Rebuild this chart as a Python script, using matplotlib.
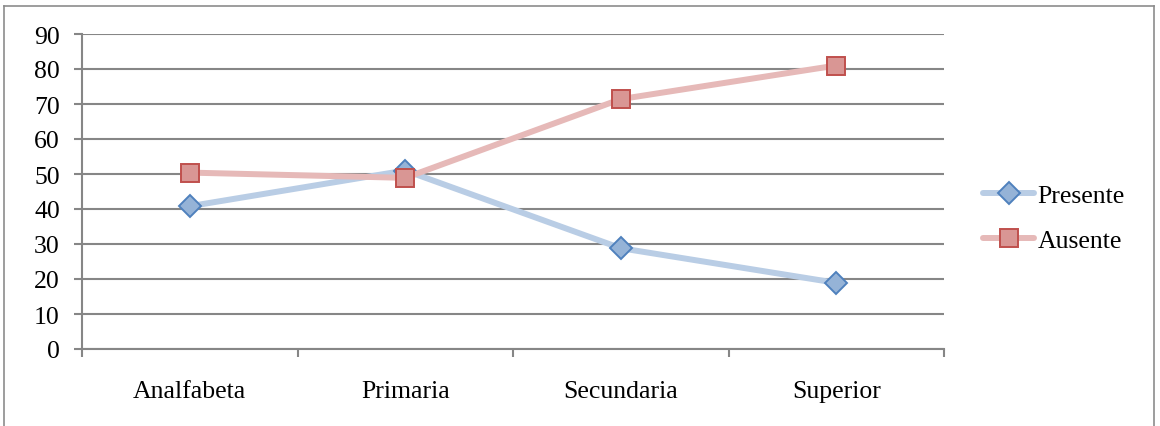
import matplotlib
matplotlib.use("Agg")
from matplotlib import pyplot as plt
from matplotlib.lines import Line2D
import numpy as np

categories = ["Analfabeta", "Primaria", "Secundaria", "Superior"]
presente = [40.8, 51.0, 28.8, 18.9]
ausente = [50.4, 48.9, 71.4, 81.0]
yticks = list(range(0, 100, 10))

plt.rcParams['font.family'] = ['Liberation Serif', 'DejaVu Serif']

fig = plt.figure(figsize=(11.6, 4.27), dpi=100)
# outer chart border (open at the bottom, as in the source)
W, H = 1160, 427
fig.add_artist(Line2D([4 / W, 4 / W], [0, 1 - 7 / H], color='#8c8c8c', lw=1.2))
fig.add_artist(Line2D([4 / W, 1154 / W], [1 - 7 / H, 1 - 7 / H], color='#8c8c8c', lw=1.2))
fig.add_artist(Line2D([1154 / W, 1154 / W], [0, 1 - 7 / H], color='#8c8c8c', lw=1.2))

ax = fig.add_axes([82 / W, 1 - 350 / H, (944 - 82) / W, (350 - 35) / H])

x = np.arange(len(categories))
ax.plot(x, presente, color='#b9cde5', lw=4.3, marker='D', markersize=11,
        markerfacecolor='#95b3d7', markeredgecolor='#4f81bd', markeredgewidth=1.4,
        label='Presente', solid_capstyle='round', zorder=3)
ax.plot(x, ausente, color='#e6b9b8', lw=4.3, marker='s', markersize=13.5,
        markerfacecolor='#d99694', markeredgecolor='#c0504d', markeredgewidth=1.4,
        label='Ausente', solid_capstyle='round', zorder=3)

ax.set_xlim(-0.5, len(categories) - 0.5)
ax.set_ylim(0, 90)
ax.set_yticks(yticks)
ax.set_yticklabels([str(v) for v in yticks], fontsize=18.5)
ax.set_xticks(x)
ax.set_xticklabels(categories, fontsize=18.5)
ax.set_xticks(np.arange(len(categories) + 1) - 0.5, minor=True)

ax.grid(axis='y', color='#868686', lw=1.5)
ax.set_axisbelow(True)
for s in ['top', 'right']:
    ax.spines[s].set_visible(False)
ax.spines['left'].set_color('#868686')
ax.spines['bottom'].set_color('#868686')
ax.spines['left'].set_linewidth(1.5)
ax.spines['bottom'].set_linewidth(1.5)
ax.tick_params(axis='y', length=6, width=1.5, color='#868686', pad=10)
ax.tick_params(axis='x', which='major', length=0, pad=22)
ax.tick_params(axis='x', which='minor', length=6, width=1.5, color='#868686')

ax.legend(loc='center left', bbox_to_anchor=(983 / W, 1 - 219 / H),
          bbox_transform=fig.transFigure, frameon=False, fontsize=18.5,
          handlelength=2.0, handletextpad=0.12, labelspacing=0.85,
          borderpad=0, borderaxespad=0)

fig.savefig("out.png", dpi=100)
